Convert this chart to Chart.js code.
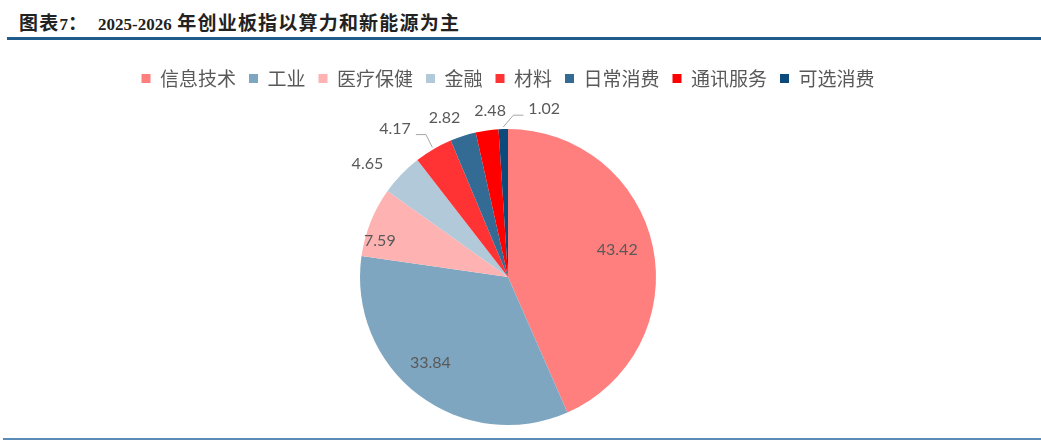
<!DOCTYPE html>
<html>
<head>
<meta charset="utf-8">
<script src="https://cdn.jsdelivr.net/npm/chart.js@4"></script>
<style>
  body { margin: 0; width: 1041px; height: 446px; background: #fff; position: relative; overflow: hidden; }
  .title { position: absolute; left: 19px; top: 8px; font-size: 19px; font-weight: bold; color: #222;
           font-family: "Noto Sans CJK SC", sans-serif; white-space: nowrap; letter-spacing: 1.2px; }
  .title .num { font-family: "Liberation Serif", serif; font-size: 17px; letter-spacing: 0; }
  .title .gap { display: inline-block; width: 10px; }
  .topline { position: absolute; left: 7px; right: 0; top: 37px; height: 3px; background: #1f5c8c; }
  .bottomline { position: absolute; left: 3px; right: 0; top: 438px; height: 2px; background: #5a8bb6; }
  #wrap { position: absolute; left: 0; top: 56px; width: 1016px; height: 384px; }
</style>
</head>
<body>
<div class="title">图表<span class="num">7</span>：<span class="gap"></span><span class="num">2025-2026</span> 年创业板指以算力和新能源为主</div>
<div class="topline"></div>
<div id="wrap"><canvas id="pie"></canvas></div>
<div class="bottomline"></div>
<script>
const sectors = ["信息技术", "工业", "医疗保健", "金融", "材料", "日常消费", "通讯服务", "可选消费"];
const weights = [43.42, 33.84, 7.59, 4.65, 4.17, 2.82, 2.48, 1.02];
const colors = ["#ff7f7f", "#7fa6c1", "#ffb2b2", "#b2c9da", "#ff3334", "#336b94", "#ff0000", "#0b4a7a"];

// label placement: distance (x outer radius), angle nudge in degrees, leader line side
const labelDist = [0.76, 0.78, 0.9, 1.22, 1.26, 1.16, 1.13, 1.16];
const labelNudge = [-2, 5, -6, -5, -7, -4, 2, 14];
const leaderSide = [0, 0, 0, 0, 1, 0, 0, -1];

const legendSpace = {
  id: "legendSpace",
  beforeInit(chart) {
    const fit = chart.legend.fit;
    chart.legend.fit = function () {
      fit.bind(chart.legend)();
      this.height = 72;
    };
  }
};

const sliceLabels = {
  id: "sliceLabels",
  afterDatasetsDraw(chart) {
    const ctx = chart.ctx;
    const arcs = chart.getDatasetMeta(0).data;
    ctx.save();
    ctx.font = "16px Lato, 'Noto Sans', sans-serif";
    ctx.fillStyle = "#595959";
    ctx.textAlign = "center";
    ctx.textBaseline = "middle";
    arcs.forEach((arc, i) => {
      const p = arc.getProps(["x", "y", "startAngle", "endAngle", "outerRadius"], true);
      const mid = (p.startAngle + p.endAngle) / 2;
      const a = mid + labelNudge[i] * Math.PI / 180;
      const lx = p.x + Math.cos(a) * p.outerRadius * labelDist[i];
      const ly = p.y + Math.sin(a) * p.outerRadius * labelDist[i];
      const txt = weights[i].toFixed(2);
      ctx.fillText(txt, lx, ly);
      if (leaderSide[i]) {
        const w = ctx.measureText(txt).width;
        const sx = p.x + Math.cos(mid) * (p.outerRadius + 2);
        const sy = p.y + Math.sin(mid) * (p.outerRadius + 2);
        const ex = lx + leaderSide[i] * (w / 2 + 5);
        const ey = ly + 6;
        ctx.beginPath();
        ctx.strokeStyle = "#a6a6a6";
        ctx.lineWidth = 1;
        ctx.moveTo(sx, sy);
        ctx.lineTo(ex + leaderSide[i] * 10, ey);
        ctx.lineTo(ex, ey);
        ctx.stroke();
      }
    });
    ctx.restore();
  }
};

new Chart(document.getElementById("pie"), {
  type: "pie",
  data: {
    labels: sectors,
    datasets: [{
      data: weights,
      backgroundColor: colors,
      borderWidth: 0,
      radius: 148
    }]
  },
  options: {
    responsive: true,
    maintainAspectRatio: false,
    animation: false,
    layout: { padding: { top: 0, bottom: 14 } },
    plugins: {
      legend: {
        position: "top",
        labels: {
          boxWidth: 9,
          boxHeight: 9,
          padding: 13,
          color: "#595959",
          font: { size: 19, family: "'Noto Sans CJK SC', sans-serif" }
        }
      },
      tooltip: { enabled: false }
    }
  },
  plugins: [legendSpace, sliceLabels]
});
</script>
</body>
</html>
